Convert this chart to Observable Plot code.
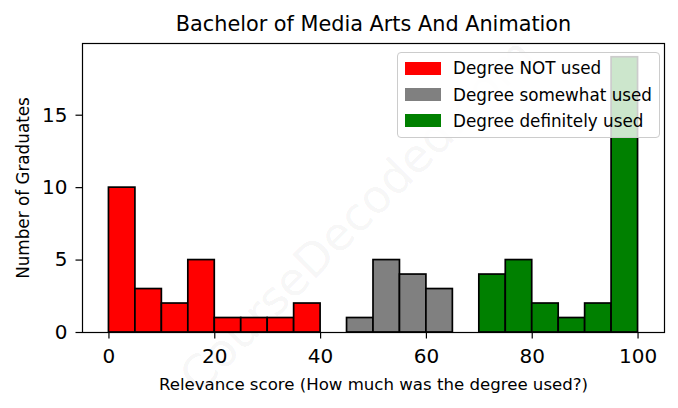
<!DOCTYPE html>
<html>
<head>
<meta charset="utf-8">
<script src="https://cdn.jsdelivr.net/npm/d3@7"></script>
<script src="https://cdn.jsdelivr.net/npm/@observablehq/plot@0.6"></script>
<style>
  body { margin: 0; background: #fff; font-family: "DejaVu Sans", sans-serif; }
  #wrap { position: relative; width: 678px; height: 408px; overflow: hidden; }
  #legend { position: absolute; left: 397px; top: 52px; width: 263px; height: 86px;
    background: rgba(255,255,255,0.8); border: 1px solid #cccccc; border-radius: 4px; box-sizing: border-box; }
  .row { position: absolute; left: 0; height: 20px; }
  .sw { position: absolute; left: 6.5px; width: 36px; height: 13px; }
  .lb { position: absolute; left: 55px; font-size: 16.8px; white-space: nowrap; color: #000; line-height: 20px; }
</style>
</head>
<body>
<div id="wrap"></div>
<script>
// Data (bin width 5)
const binStarts = [0, 5, 10, 15, 20, 25, 30, 35, 40, 45, 50, 55, 60, 65, 70, 75, 80, 85, 90, 95];
const counts    = [10, 3, 2, 5, 1, 1, 1, 2, 0, 1, 5, 4, 3, 0, 4, 5, 2, 1, 2, 19];
const binGroup  = ["NOT","NOT","NOT","NOT","NOT","NOT","NOT","NOT","somewhat","somewhat","somewhat","somewhat","somewhat","somewhat",
                   "definitely","definitely","definitely","definitely","definitely","definitely"];
const groups = ["NOT", "somewhat", "definitely"];
const groupLabels = ["Degree NOT used", "Degree somewhat used", "Degree definitely used"];
const groupColors = ["#ff0000", "#808080", "#008000"];
const xTicks = [0, 20, 40, 60, 80, 100];
const yTicks = [0, 5, 10, 15];
const binWidth = 5;

const bars = binStarts.map((s, i) => ({x1: s, x2: s + binWidth, count: counts[i], group: binGroup[i]}))
  .filter(d => d.count > 0);

const font = "DejaVu Sans, sans-serif";

const plot = Plot.plot({
  width: 678,
  height: 408,
  marginLeft: 82,
  marginRight: 14,
  marginTop: 43,
  marginBottom: 76,
  style: {fontFamily: font, background: "#fff", color: "#000"},
  x: {domain: [-5, 105]},
  y: {domain: [0, 19.95]},
  color: {domain: groups, range: groupColors},
  marks: [
    Plot.text(["CourseDecoded.com"], {frameAnchor: "middle", dx: -16, dy: 28, rotate: -45,
      fontSize: 46, fill: "#000", fillOpacity: 0.05, text: d => d}),
    Plot.rectY(bars, {x1: "x1", x2: "x2", y: "count", fill: "group", stroke: "#000", strokeWidth: 1.7}),
    Plot.frame({stroke: "#000", strokeWidth: 1.2}),
    Plot.axisX({ticks: xTicks, tickSize: 6.5, tickPadding: 10, fontSize: 20, label: null, tickFormat: d => d, strokeWidth: 1.2}),
    Plot.axisY({ticks: yTicks, tickSize: 6.5, tickPadding: 8.5, fontSize: 20, label: null, tickFormat: d => d, strokeWidth: 1.2}),
    Plot.text(["Bachelor of Media Arts And Animation"], {frameAnchor: "top", dy: -12.5, lineAnchor: "bottom",
      fontSize: 20.8, fill: "#000", text: d => d}),
    Plot.text(["Relevance score (How much was the degree used?)"], {frameAnchor: "bottom", dy: 57, lineAnchor: "bottom",
      fontSize: 16.6, fill: "#000", text: d => d}),
    Plot.text(["Number of Graduates"], {frameAnchor: "left", dx: -54, rotate: -90, lineAnchor: "bottom", textAnchor: "middle",
      fontSize: 16.8, fill: "#000", text: d => d})
  ]
});

const wrap = document.getElementById("wrap");
wrap.appendChild(plot);

const legend = document.createElement("div");
legend.id = "legend";
const rowTops = [5, 31.5, 57.5];
groups.forEach((g, i) => {
  const row = document.createElement("div");
  row.className = "row";
  row.style.top = rowTops[i] + "px";
  const sw = document.createElement("div");
  sw.className = "sw";
  sw.style.top = "3.5px";
  sw.style.background = groupColors[i];
  const lb = document.createElement("div");
  lb.className = "lb";
  lb.style.top = "0px";
  lb.textContent = groupLabels[i];
  row.appendChild(sw);
  row.appendChild(lb);
  legend.appendChild(row);
});
wrap.appendChild(legend);
</script>
</body>
</html>
